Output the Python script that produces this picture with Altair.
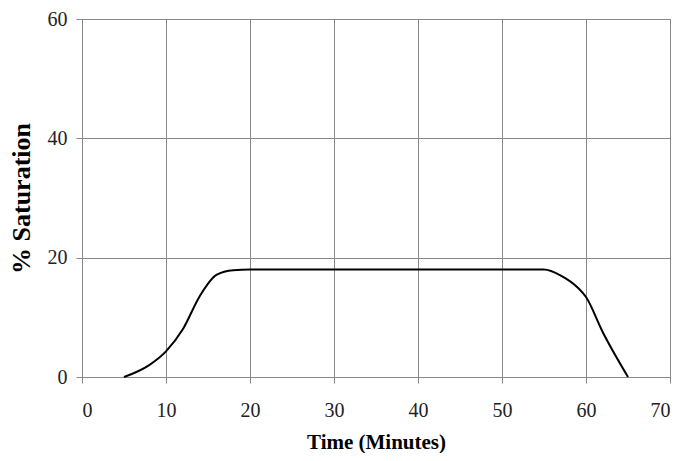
import altair as alt
import pandas as pd

time_min = [5, 8, 10, 12, 14, 16, 18, 20, 25, 30, 35, 40, 45, 50, 55, 57, 59, 60, 62, 65]
saturation = [0, 2, 4.3, 8, 13.5, 17.1, 17.9, 18, 18, 18, 18, 18, 18, 18, 18, 17, 15, 13.4, 7.5, 0]

df = pd.DataFrame({"t": time_min, "s": saturation})

font = "Liberation Serif"

chart = alt.Chart(df).mark_line(
    color="black", strokeWidth=2, interpolate="monotone"
).encode(
    x=alt.X("t:Q", scale=alt.Scale(domain=[0, 70], nice=False),
            axis=alt.Axis(title="Time (Minutes)", values=list(range(0, 71, 10)),
                          labelPadding=17, titleX=294, titleY=65,
                          titleBaseline="middle", titleAlign="center",
                          titleFontSize=21)),
    y=alt.Y("s:Q", scale=alt.Scale(domain=[0, 60], nice=False),
            axis=alt.Axis(title="% Saturation", values=[0, 20, 40, 60],
                          labelPadding=9, titleX=-61, titleY=179,
                          titleAngle=-90, titleBaseline="middle",
                          titleAlign="center", titleFontSize=26)),
).properties(
    width=588, height=358,
    autosize=alt.AutoSizeParams(type="none"),
    padding={"left": 74, "top": 11, "right": 7, "bottom": 76},
).configure_axis(
    labelFont=font, labelFontSize=20, labelColor="#222222",
    titleFont=font, titleFontWeight="bold", titleColor="black",
    gridColor="#888888", gridOpacity=1, gridWidth=1,
    domainColor="#888888", tickColor="#888888", tickSize=6,
).configure_view(
    stroke="#888888", strokeWidth=1
)

chart.save("out.html", embed_options={"renderer": "svg", "actions": False})
